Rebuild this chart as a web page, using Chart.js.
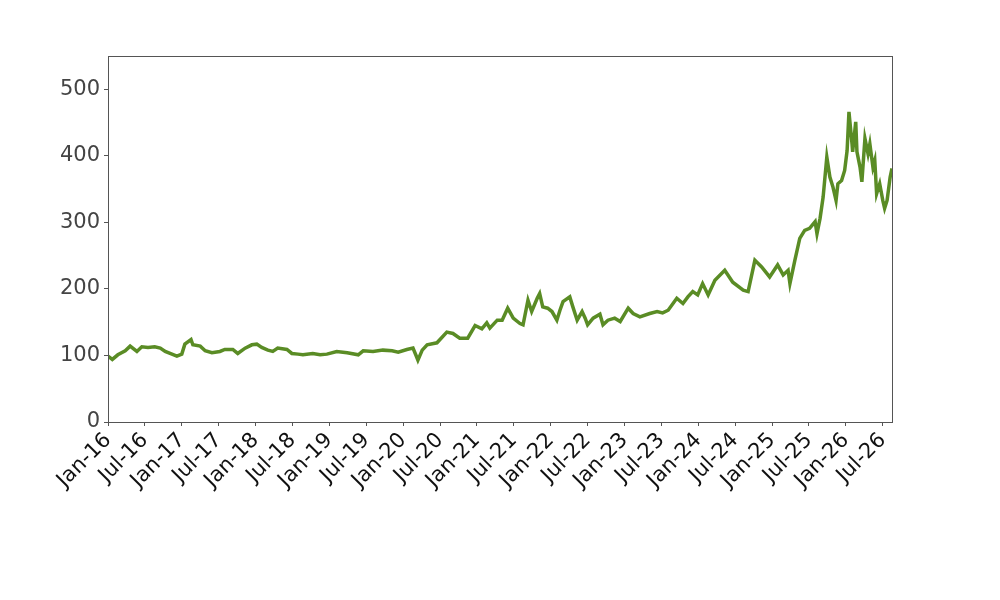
<!DOCTYPE html>
<html>
<head>
<meta charset="utf-8">
<script src="https://cdn.jsdelivr.net/npm/chart.js@4"></script>
<style>
  html, body { margin: 0; padding: 0; background: #fff; }
  #wrap { width: 1000px; height: 600px; }
</style>
</head>
<body>
<div id="wrap"><canvas id="chart" width="1000" height="600"></canvas></div>
<script>
// months since Jan-2016
const months = [
  0.0, 0.7, 1.6, 2.8, 3.6, 4.7, 5.5, 6.5, 7.6, 8.5, 9.3, 10.4, 11.2, 12.0, 12.5, 13.5, 13.8,
  15.0, 15.8, 16.9, 18.2, 19.0, 20.3, 21.1, 22.3, 23.4, 24.2, 25.0, 26.0, 26.8, 27.6, 29.1,
  29.9, 30.9, 31.7, 33.3, 34.5, 35.6, 37.2, 38.9, 40.7, 41.5, 43.1, 44.7, 46.2, 47.2, 48.6,
  49.6, 50.1, 50.4, 51.1, 51.9, 53.5, 55.1, 56.1, 57.2, 58.5, 59.7, 60.8, 61.6, 62.1, 63.3,
  64.1, 65.0, 65.9, 67.0, 67.5, 68.3, 68.9, 69.8, 70.2, 70.7, 71.5, 72.2, 73.0, 73.5, 74.0,
  75.1, 75.6, 76.3, 77.1, 77.6, 78.0, 78.9, 80.0, 80.5, 81.3, 82.4, 83.3, 84.6, 85.4, 86.5,
  88.1, 89.3, 90.2, 91.1, 92.5, 93.5, 94.3, 95.1, 95.9, 96.7, 97.6, 98.7, 100.3, 101.6,
  103.3, 104.1, 105.2, 106.3, 107.6, 108.9, 109.8, 110.6, 110.9, 111.7, 112.5, 113.3, 114.1,
  115.0, 115.3, 115.8, 116.3, 116.9, 117.4, 117.9, 118.4, 118.7, 119.3, 119.8, 120.2, 120.5,
  121.0, 121.1, 121.6, 121.8, 122.3, 122.6, 123.1, 123.6, 123.9, 124.4, 124.7, 125.0, 125.5,
  126.0, 126.3, 126.7, 127.2, 127.5
];

const prices = [
  99, 94, 101, 107, 114, 106, 113, 112, 113, 111, 106, 102, 99, 102, 117, 124, 116,
  114, 107, 104, 106, 109, 109, 103, 111, 116, 117, 112, 108, 106, 111, 109,
  103, 102, 101, 103, 101, 102, 106, 104, 101, 107, 106, 108, 107, 105, 109,
  111, 100, 93, 108, 116, 119, 135, 133, 126, 126, 145, 140, 149, 141, 153,
  153, 171, 156, 148, 146, 183, 166, 186, 193, 173, 171, 166, 153, 168, 181,
  188, 173, 153, 166, 156, 146, 156, 162, 146, 153, 156, 151, 171, 163, 158,
  163, 166, 164, 168, 186, 178, 188, 196, 191, 208, 191, 213, 228, 210,
  198, 196, 243, 233, 218, 236, 221, 228, 208, 243, 276, 288, 291,
  301, 283, 306, 338, 398, 368, 353, 333, 358, 363, 378, 408, 466,
  418, 406, 451, 406, 383, 361, 426, 403, 418, 383, 393, 343, 358,
  333, 321, 333, 368, 381
];

const monthNames = ["Jan", "Jul"];
const yTicks = [0, 100, 200, 300, 400, 500];

function tickLabel(value) {
  const year = 16 + Math.floor(value / 12);
  const half = Math.round((value % 12) / 6);
  return monthNames[half] + "-" + year;
}

const framePlugin = {
  id: "frame",
  afterDraw(chart) {
    const a = chart.chartArea;
    const ctx = chart.ctx;
    ctx.save();
    ctx.strokeStyle = "#555555";
    ctx.lineWidth = 1;
    ctx.strokeRect(a.left + 0.5, a.top + 0.5, a.right - a.left, a.bottom - a.top);
    ctx.restore();
  }
};

new Chart(document.getElementById("chart"), {
  type: "line",
  data: {
    datasets: [
      {
        data: months.map((m, i) => ({ x: m, y: prices[i] })),
        borderColor: "#5a8c25",
        borderWidth: 3.5,
        pointRadius: 0,
        tension: 0,
        fill: false
      }
    ]
  },
  options: {
    responsive: false,
    animation: false,
    layout: {
      padding: { top: 56, right: 108, left: 0, bottom: 0 }
    },
    plugins: {
      legend: { display: false },
      tooltip: { enabled: false }
    },
    scales: {
      x: {
        type: "linear",
        min: 0,
        max: 127.5,
        afterBuildTicks(scale) {
          scale.ticks = [];
          for (let v = 0; v <= 126; v += 6) scale.ticks.push({ value: v });
        },
        afterFit(scale) {
          scale.height = 178;
        },
        ticks: {
          autoSkip: false,
          maxRotation: 45,
          minRotation: 45,
          padding: 2,
          color: "#111111",
          font: { family: "DejaVu Sans", size: 21 },
          callback: (v) => tickLabel(v)
        },
        grid: {
          drawOnChartArea: false,
          drawTicks: true,
          tickLength: 4,
          color: "#555555"
        },
        border: { display: true, color: "#555555" }
      },
      y: {
        min: 0,
        max: 550,
        afterBuildTicks(scale) {
          scale.ticks = yTicks.map((v) => ({ value: v }));
        },
        afterFit(scale) {
          scale.width = 108;
        },
        ticks: {
          padding: 4,
          color: "#444444",
          font: { family: "DejaVu Sans", size: 21 }
        },
        grid: {
          drawOnChartArea: false,
          drawTicks: true,
          tickLength: 4,
          color: "#555555"
        },
        border: { display: true, color: "#555555" }
      }
    }
  },
  plugins: [framePlugin]
});
</script>
</body>
</html>
